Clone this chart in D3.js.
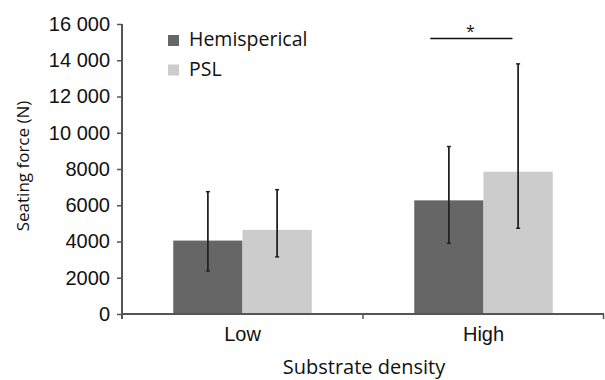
<!DOCTYPE html>
<html>
<head>
<meta charset="utf-8">
<script src="https://cdn.jsdelivr.net/npm/d3@7"></script>
<style>
  body { margin: 0; background: #fff; }
  svg { display: block; font-family: "Open Sans", sans-serif; }
</style>
</head>
<body>
<svg width="605" height="380"></svg>
<script>
// chart data
var categories = ["Low", "High"];
var series = ["Hemisperical", "PSL"];
var colors = ["#666666", "#cccccc"];
var hemiValues = [4050, 6270];
var pslValues = [4640, 7850];
var hemiErrLow = [2370, 3900];
var hemiErrHigh = [6750, 9240];
var pslErrLow = [3150, 4730];
var pslErrHigh = [6860, 13800];
var yTicks = [0, 2000, 4000, 6000, 8000, 10000, 12000, 14000, 16000];
var yTickLabels = ["0", "2000", "4000", "6000", "8000", "10 000", "12 000", "14 000", "16 000"];
var sigCategory = "High";
var sigValue = 15200;

var svgWidth = 605, svgHeight = 380;
var margin = {top: 24, right: 1, bottom: 66, left: 122};
var width = svgWidth - margin.left - margin.right;
var height = svgHeight - margin.top - margin.bottom;

var svg = d3.select("svg");
var g = svg.append("g")
  .attr("transform", "translate(" + margin.left + "," + margin.top + ")");

var x0 = d3.scaleBand().domain(categories).range([0, width]).padding(0);
var x1 = d3.scaleBand().domain(series).range([0, x0.bandwidth()])
  .paddingInner(0).paddingOuter(0.74);
var y = d3.scaleLinear().domain([0, 16000]).range([height, 0]);

var data = categories.map(function (c, i) {
  return [
    {cat: c, s: series[0], v: hemiValues[i], lo: hemiErrLow[i], hi: hemiErrHigh[i], color: colors[0]},
    {cat: c, s: series[1], v: pslValues[i], lo: pslErrLow[i], hi: pslErrHigh[i], color: colors[1]}
  ];
});
var flat = d3.merge(data);

// bars
g.selectAll("rect.bar")
  .data(flat)
  .enter().append("rect")
  .attr("class", "bar")
  .attr("x", function (d) { return x0(d.cat) + x1(d.s); })
  .attr("y", function (d) { return y(d.v); })
  .attr("width", x1.bandwidth())
  .attr("height", function (d) { return y(0) - y(d.v); })
  .attr("fill", function (d) { return d.color; });

// error bars
var err = g.selectAll("g.err")
  .data(flat)
  .enter().append("g")
  .attr("class", "err")
  .attr("stroke", "#222")
  .attr("transform", function (d) {
    return "translate(" + (x0(d.cat) + x1(d.s) + x1.bandwidth() / 2) + ",0)";
  });
err.append("line")
  .attr("y1", function (d) { return y(d.lo); })
  .attr("y2", function (d) { return y(d.hi); })
  .attr("stroke-width", 1.8);
err.append("line")
  .attr("x1", -2).attr("x2", 2)
  .attr("y1", function (d) { return y(d.lo); })
  .attr("y2", function (d) { return y(d.lo); })
  .attr("stroke-width", 1.5);
err.append("line")
  .attr("x1", -2).attr("x2", 2)
  .attr("y1", function (d) { return y(d.hi); })
  .attr("y2", function (d) { return y(d.hi); })
  .attr("stroke-width", 1.5);

// y axis
var yAxis = g.append("g")
  .call(d3.axisLeft(y).tickValues(yTicks).tickSize(5).tickPadding(7)
    .tickFormat(function (d, i) { return yTickLabels[i]; }));
yAxis.select(".domain").remove();
yAxis.selectAll(".tick line").attr("stroke", "#555").attr("stroke-width", 1.5);
yAxis.selectAll("text").attr("fill", "#111").style("font-size", "20px");
g.append("line")
  .attr("x1", 0).attr("x2", 0)
  .attr("y1", 0).attr("y2", height + 5)
  .attr("stroke", "#555").attr("stroke-width", 2);

// x axis
var xAxis = g.append("g")
  .attr("transform", "translate(0," + height + ")")
  .call(d3.axisBottom(x0).tickSize(0).tickPadding(13));
xAxis.select(".domain").remove();
xAxis.selectAll("text").attr("fill", "#111").style("font-size", "20px");
g.append("line")
  .attr("x1", 0).attr("x2", width)
  .attr("y1", height).attr("y2", height)
  .attr("stroke", "#555").attr("stroke-width", 2);
g.selectAll("line.xtick")
  .data(categories.slice(1).concat(["end"]))
  .enter().append("line")
  .attr("class", "xtick")
  .attr("x1", function (d) { return d === "end" ? width - 0.5 : x0(d); })
  .attr("x2", function (d) { return d === "end" ? width - 0.5 : x0(d); })
  .attr("y1", height).attr("y2", height + 5)
  .attr("stroke", "#555").attr("stroke-width", 1.5);

// axis titles
svg.append("text")
  .attr("x", 364)
  .attr("y", 374)
  .attr("text-anchor", "middle")
  .attr("fill", "#111")
  .style("font-size", "20px")
  .text("Substrate density");
svg.append("text")
  .attr("transform", "translate(29,166) rotate(-90)")
  .attr("text-anchor", "middle")
  .attr("fill", "#111")
  .style("font-size", "17px")
  .text("Seating force (N)");

// legend
var legend = svg.append("g").attr("transform", "translate(168,35)");
var li = legend.selectAll("g")
  .data(series)
  .enter().append("g")
  .attr("transform", function (d, i) { return "translate(0," + (i * 29.5) + ")"; });
li.append("rect")
  .attr("width", 11).attr("height", 11)
  .attr("fill", function (d, i) { return colors[i]; });
li.append("text")
  .attr("x", 21).attr("y", 11)
  .attr("fill", "#111")
  .style("font-size", "19.5px")
  .text(function (d) { return d; });

// significance marker
var sx = x0(sigCategory);
g.append("line")
  .attr("x1", sx + x1(series[0]) + 16)
  .attr("x2", sx + x1(series[1]) + 29)
  .attr("y1", y(sigValue)).attr("y2", y(sigValue))
  .attr("stroke", "#111").attr("stroke-width", 1.5);
g.append("text")
  .attr("x", sx + x1(series[1]) - 13)
  .attr("y", y(sigValue) - 2)
  .attr("text-anchor", "middle")
  .attr("fill", "#111")
  .style("font-size", "16px")
  .text("*");
</script>
</body>
</html>
